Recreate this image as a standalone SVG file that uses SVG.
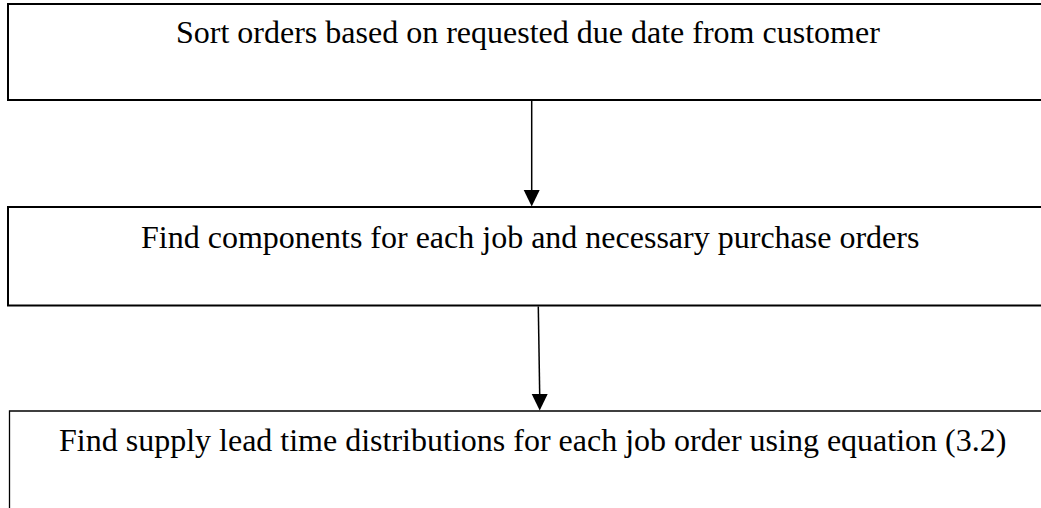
<svg xmlns="http://www.w3.org/2000/svg" width="1041" height="508" viewBox="0 0 1041 508">
<style>
.box{fill:none;stroke:#000;stroke-width:2}
.box3{fill:none;stroke:#000;stroke-width:1.3}
.lbl{font-family:"Liberation Serif","Times New Roman",serif;font-size:32px;fill:#000}
.conn{stroke:#000;stroke-width:1.5;fill:none}
</style>
<g id="node1">
<rect class="box" x="8" y="4" width="1040" height="96"/>
<text class="lbl" x="176" y="43">Sort orders based on requested due date from customer</text>
</g>
<g id="node2">
<rect class="box" x="8" y="207" width="1040" height="98.5"/>
<text class="lbl" x="141" y="248">Find components for each job and necessary purchase orders</text>
</g>
<g id="node3">
<path class="box3" d="M9.5,520 V411 H1045"/>
<text class="lbl" x="59" y="451">Find supply lead time distributions for each job order using equation (3.2)</text>
</g>
<g id="connectors">
<line class="conn" x1="531.7" y1="101" x2="531.7" y2="190"/>
<path d="M523.7,190 L539.7,190 L531.7,206.5 Z" fill="#000"/>
<line class="conn" x1="538.3" y1="306.5" x2="539.7" y2="394"/>
<path d="M531.7,394 L547.7,394 L539.7,410.5 Z" fill="#000"/>
</g>
</svg>
